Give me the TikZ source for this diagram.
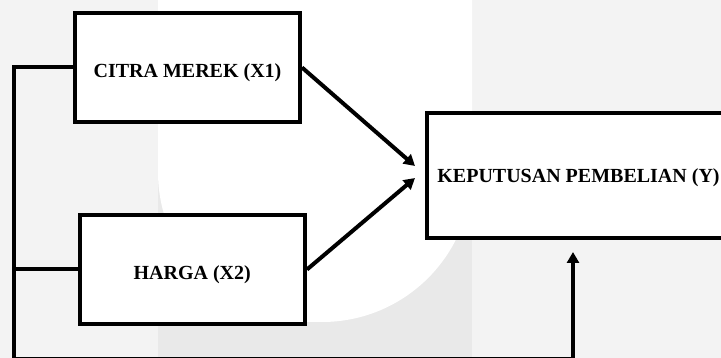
\documentclass[tikz,border=0pt]{standalone}
\usepackage{fontspec}
\setmainfont{Liberation Serif}
\usetikzlibrary{arrows.meta}
\definecolor{bgA}{HTML}{F3F3F3}
\definecolor{bgB}{HTML}{E9E9E9}
\begin{document}
\begin{tikzpicture}[x=1pt,y=-1pt,
  box/.style={draw=black, line width=4pt, fill=white, inner sep=0pt,
    font=\fontsize{20}{24}\selectfont\bfseries},
  conn/.style={draw=black, line width=4pt},
  tip/.style={-{Triangle[length=11pt,width=12pt]}}]
\useasboundingbox (0,0) rectangle (721,358);
% watermark background
\begin{scope}
\clip (0,0) rectangle (721,358);
\fill[bgA] (0,0) rectangle (721,358);
\fill[bgB] (158,0) rectangle (472,358);
\fill[white, rounded corners=150pt] (158,-400) -- (158,322) -- (472,322) -- (472,-400) -- cycle;
\end{scope}
\begin{scope}
\clip (0,0) rectangle (721,358);
% boxes
\node[box, minimum width=225pt, minimum height=109pt, text height=21pt, text depth=0pt] (x1) at (187.5,67.5) {CITRA MEREK (X1)};
\node[box, minimum width=225.5pt, minimum height=109pt, text height=21pt, text depth=0pt] (x2) at (192.25,269.5) {HARGA (X2)};
\node[box, minimum width=304pt, minimum height=125pt, text height=14pt, text depth=0pt] (y) at (578.5,176) {KEPUTUSAN PEMBELIAN (Y)};
% helper coordinates
\coordinate (t1) at (415,166);
\coordinate (t2) at (415,178);
\coordinate (lt) at (13.5,67.5);
\coordinate (lb) at (13.5,358.8);
\coordinate (rb) at (573,358.8);
\coordinate (t3) at (573,252);
% connectors
\draw[conn, tip] (x1.west) -- (lt) -- (lb) -- (rb) -- (t3);
\draw[conn] (x2.west) -- (x2.west -| lt);
\draw[conn, tip] (x1.east) -- (t1);
\draw[conn, tip] (x2.east) -- (t2);
\end{scope}
\end{tikzpicture}
\end{document}
